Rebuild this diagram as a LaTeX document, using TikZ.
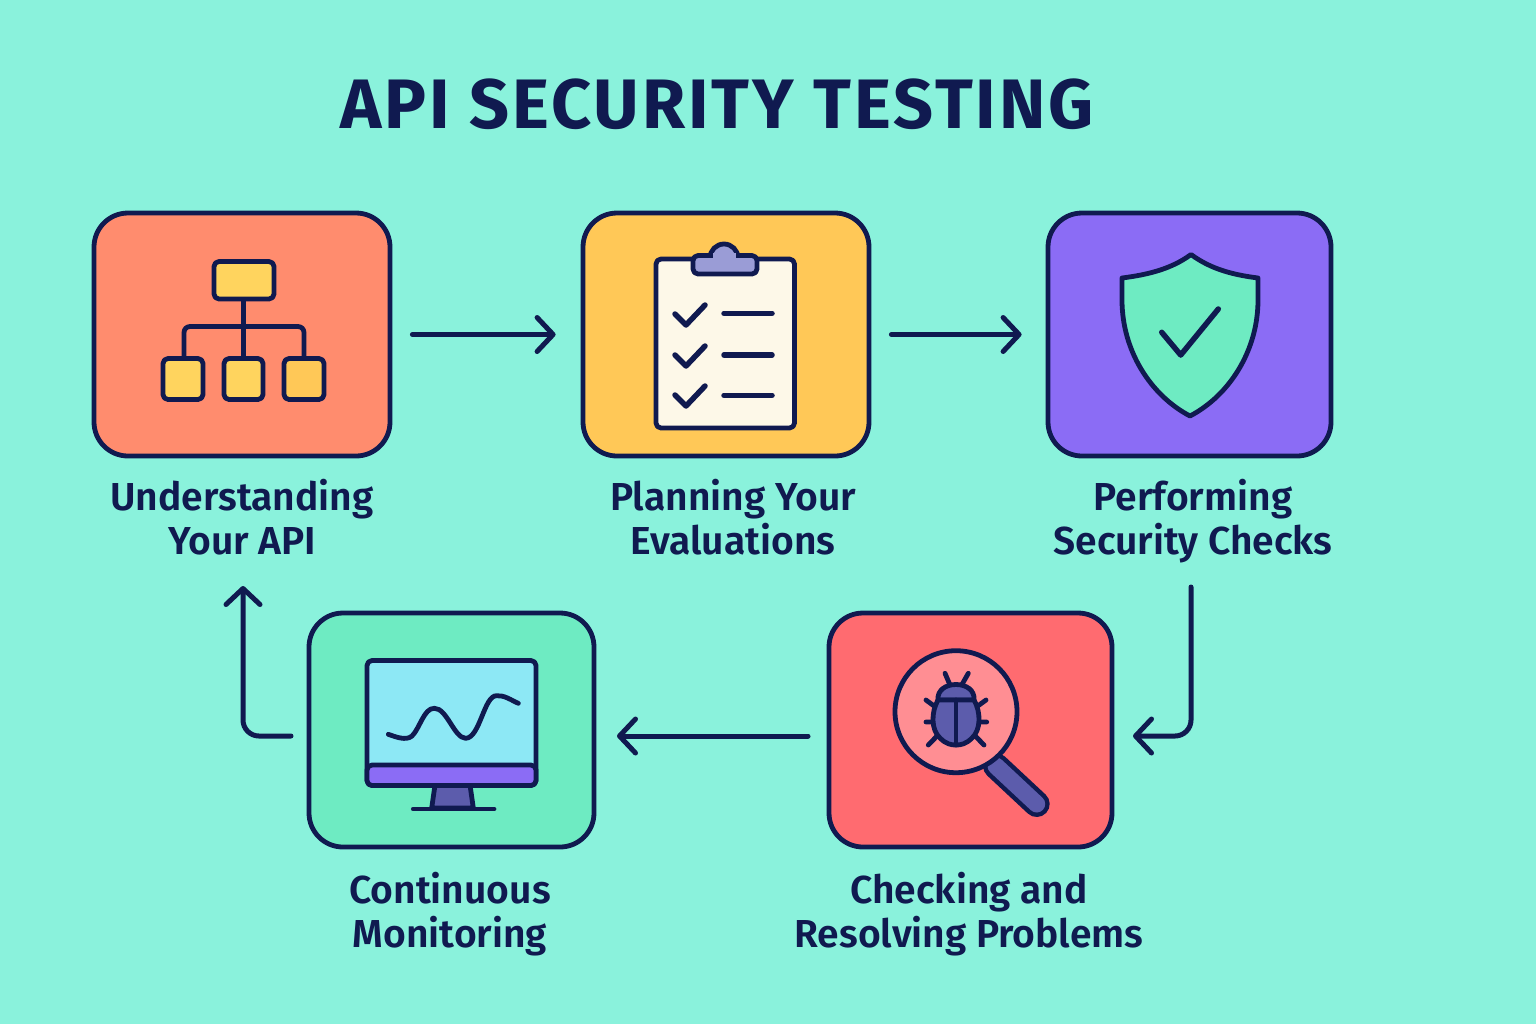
\documentclass[tikz,border=0pt]{standalone}
\usepackage{fontspec}
\setmainfont{Fira Sans}
\newfontfamily\headfont[LetterSpace=4.2]{Fira Sans}
\newfontfamily\stagefont{Fira Sans SemiBold}
\usepackage{tikz}
\usetikzlibrary{arrows.meta}
\definecolor{navy}{HTML}{101A50}
\definecolor{seafoam}{HTML}{8AF2DC}
\definecolor{coral}{HTML}{FF8C6E}
\definecolor{amber}{HTML}{FFC857}
\definecolor{violet}{HTML}{8B6CF5}
\definecolor{mint}{HTML}{6EEBC2}
\definecolor{rosered}{HTML}{FF6B70}
\definecolor{lemon}{HTML}{FFD45E}
\definecolor{cream}{HTML}{FDF8E8}
\definecolor{lilac}{HTML}{9A9CD6}
\definecolor{indigo}{HTML}{5C5CAC}
\definecolor{skyblue}{HTML}{8DE8F5}
\definecolor{pinkglass}{HTML}{FF8E93}
\tikzset{
  stagebox/.style={draw=navy,line width=2.4pt,rounded corners=17pt,inner sep=0pt},
  stagelabel/.style={text=navy,align=center,font=\stagefont\fontsize{19.5}{22}\selectfont},
  flow/.style={navy,line width=2.5pt,line cap=round,rounded corners=8pt,-{Straight Barb[length=8pt,width=17pt,line width=2.5pt,round]}},
  iconline/.style={draw=navy,line width=2.4pt,line cap=round,line join=round},
  iconpart/.style={iconline,rounded corners=2.5pt},
  tick/.style={navy,line width=2.75pt,line cap=round,line join=round}
}
\begin{document}
\begin{tikzpicture}[x=0.5pt,y=-0.5pt]
\path[use as bounding box,fill=seafoam] (0,0) rectangle (1536,1024);
\node at (717,104) [text=navy,font=\headfont\bfseries\fontsize{35}{40}\selectfont] (title) {API SECURITY TESTING};
\node at (242,334.5) [stagebox,fill=coral,minimum width=148pt,minimum height=121.5pt] (understand) {};
\node at (726,334.5) [stagebox,fill=amber,minimum width=143pt,minimum height=121.5pt] (plan) {};
\node at (1189.5,334.5) [stagebox,fill=violet,minimum width=141.5pt,minimum height=121.5pt] (perform) {};
\node at (451.5,730) [stagebox,fill=mint,minimum width=142.5pt,minimum height=117pt] (monitor) {};
\node at (970.5,730) [stagebox,fill=rosered,minimum width=141.5pt,minimum height=117pt] (resolve) {};
\node at (242,517.5) [stagelabel] (understandtext) {Understanding\\Your API};
\node at (733,517.5) [stagelabel] (plantext) {Planning Your\\Evaluations};
\node at (1193,521) [stagelabel] (performtext) {Performing\\Security Checks};
\node at (450,914) [stagelabel] (monitortext) {Continuous\\Monitoring};
\node at (969,914) [stagelabel] (resolvetext) {Checking and\\Resolving Problems};
\coordinate (performout) at (1191,587);
\coordinate (resolvein) at (1133,736);
\coordinate (resolveout) at (808,736);
\coordinate (monitorin) at (617,736);
\coordinate (monitorout) at (291,736);
\coordinate (understandin) at (243,586);
\draw[flow] ([xshift=10pt]understand.east) -- ([xshift=-12.5pt]plan.west);
\draw[flow] ([xshift=10pt]plan.east) -- ([xshift=-12pt]perform.west);
\draw[flow] (performout) |- (resolvein);
\draw[flow] (resolveout) -- (monitorin);
\draw[flow] (monitorout) -| (understandin);
% org chart
\draw[iconline,rounded corners=3pt] (243.5,299) -- (243.5,358) (184,358) -- (184,326.5) -- (304,326.5) -- (304,358);
\draw[iconpart,fill=lemon] (214,261.5) rectangle (274,299);
\draw[iconpart,fill=lemon] (163,358.5) rectangle (203,399.5);
\draw[iconpart,fill=lemon] (224,358.5) rectangle (263,399.5);
\draw[iconpart,fill=amber] (284,358.5) rectangle (324,399.5);
% clipboard
\draw[iconpart,fill=cream] (656,259) rectangle (794.5,428);
\draw[iconline,fill=lilac] (710,258) arc (180:360:14) -- cycle;
\draw[iconpart,fill=lilac] (693,255.5) rectangle (757,274);
\fill[lilac] (712.5,253) rectangle (735.5,262);
\foreach \y/\z in {314/313.3,355/355,395/395.3} {
  \draw[tick] (675,\y) -- ++(11,11) -- ++(19,-20);
  \draw[tick] (724,\z) -- (772,\z);
}
% shield
\draw[iconline,fill=mint] (1191,254.5) .. controls (1170,270) and (1145,275) .. (1122,278) -- (1122,300) .. controls (1122,350) and (1150,395) .. (1190,416) .. controls (1230,395) and (1258,350) .. (1258,300) -- (1258,278) .. controls (1235,275) and (1212,270) .. (1191,254.5) -- cycle;
\draw[tick] (1161.7,332.3) -- (1180.7,355) -- (1218.3,309);
% monitor
\draw[iconline,fill=indigo] (435,785) -- (431.7,808) -- (473.3,808) -- (470,785) -- cycle;
\draw[iconline] (413.3,809) -- (494,809);
\draw[iconpart,fill=skyblue] (367,660.5) rectangle (536,785.5);
\draw[iconpart,fill=violet] (367,765) -- (536,765) -- (536,785.5) -- (367,785.5) -- cycle;
\draw[iconline] (388.3,734.3) .. controls (396,737) and (406,741) .. (412,736) .. controls (420,728) and (424,708) .. (434.3,708.3) .. controls (447,708) and (454,738) .. (465.7,738.3) .. controls (480,738) and (484,695) .. (496.7,695.7) .. controls (504,695) and (511,700) .. (518.3,703.3);
% magnifier
\draw[navy,line width=13pt,line cap=round] (996,766) -- (1036.7,804);
\draw[indigo,line width=8.5pt,line cap=round] (996,766) -- (1036.7,804);
\draw[iconline,fill=pinkglass] (956,711.7) circle (61);
\draw[iconline] (945,673.3) -- (950,685) (968.3,673.3) -- (961.7,685) (926,700) -- (936.7,708) (986,700) -- (975,708) (926,722) -- (986.7,722) (928.3,745) -- (937.3,735.7) (984,745) -- (975,735.7);
\draw[iconline,fill=indigo] (938,700) .. controls (937,690) and (946,684.5) .. (956,684.5) .. controls (966,684.5) and (975,690) .. (974,700) -- cycle;
\draw[iconline,fill=indigo] (974,700) .. controls (981,712) and (981,730) .. (972,738) .. controls (966,744) and (961,745) .. (956,745) .. controls (951,745) and (946,744) .. (940,738) .. controls (931,730) and (931,712) .. (938,700) -- cycle;
\draw[iconline] (956,700) -- (956,745);
\end{tikzpicture}
\end{document}
